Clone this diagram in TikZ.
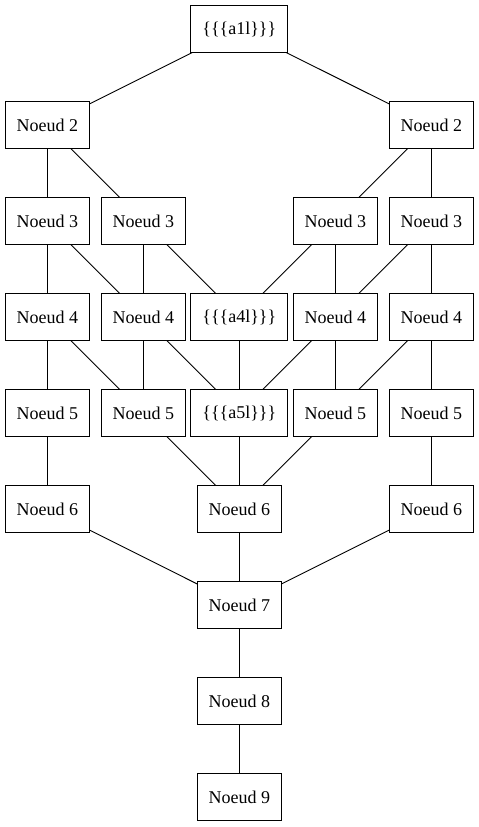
\documentclass[tikz,border=0pt]{standalone}
\usepackage{fontspec}
\setmainfont{Liberation Serif}
\usepackage{tikz}
\usetikzlibrary{positioning}

\begin{document}
\begin{tikzpicture}[x=1pt,y=-1pt,font=\fontsize{18}{20}\selectfont,
  box/.style={rectangle,draw,line width=0.9pt,outer sep=0pt,inner xsep=11.5pt,minimum height=47pt},
  ln/.style={line width=0.9pt}]
  \useasboundingbox (0,0) rectangle (479,827);
  % rangee 1 et 2
  \node[box](a1) at (239.3,29){\{\{\{a1l\}\}\}};
  \node[box](n2a) at (47.3,125){Noeud 2};
  \node[box](n2b) at (431.3,125){Noeud 2};
  % rangee 3
  \node[box,below=49pt of n2a](n3a){Noeud 3};
  \node[box](n3b) at (143.3,221){Noeud 3};
  \node[box](n3c) at (335.3,221){Noeud 3};
  \node[box,below=49pt of n2b](n3d){Noeud 3};
  % rangee 4
  \node[box,below=49pt of n3a](n4a){Noeud 4};
  \node[box,below=49pt of n3b](n4b){Noeud 4};
  \node[box](a4) at (239.3,317){\{\{\{a4l\}\}\}};
  \node[box,below=49pt of n3c](n4c){Noeud 4};
  \node[box,below=49pt of n3d](n4d){Noeud 4};
  % rangee 5
  \node[box,below=49pt of n4a](n5a){Noeud 5};
  \node[box,below=49pt of n4b](n5b){Noeud 5};
  \node[box,below=49pt of a4](a5){\{\{\{a5l\}\}\}};
  \node[box,below=49pt of n4c](n5c){Noeud 5};
  \node[box,below=49pt of n4d](n5d){Noeud 5};
  % rangee 6 a 9
  \node[box,below=49pt of n5a](n6a){Noeud 6};
  \node[box,below=49pt of a5](n6b){Noeud 6};
  \node[box,below=49pt of n5d](n6c){Noeud 6};
  \node[box,below=49pt of n6b](n7){Noeud 7};
  \node[box,below=49pt of n7](n8){Noeud 8};
  \node[box,below=49pt of n8](n9){Noeud 9};
  % aretes
  \draw[ln](a1)--(n2a);\draw[ln](a1)--(n2b);
  \draw[ln](n2a)--(n3a);\draw[ln](n2a)--(n3b);
  \draw[ln](n2b)--(n3c);\draw[ln](n2b)--(n3d);
  \draw[ln](n3a)--(n4a);\draw[ln](n3a)--(n4b);
  \draw[ln](n3b)--(n4b);\draw[ln](n3b)--(a4);
  \draw[ln](n3c)--(a4);\draw[ln](n3c)--(n4c);
  \draw[ln](n3d)--(n4c);\draw[ln](n3d)--(n4d);
  \draw[ln](n4a)--(n5a);\draw[ln](n4a)--(n5b);
  \draw[ln](n4b)--(n5b);\draw[ln](n4b)--(a5);
  \draw[ln](a4)--(a5);
  \draw[ln](n4c)--(a5);\draw[ln](n4c)--(n5c);
  \draw[ln](n4d)--(n5c);\draw[ln](n4d)--(n5d);
  \draw[ln](n5a)--(n6a);\draw[ln](n5b)--(n6b);\draw[ln](a5)--(n6b);
  \draw[ln](n5c)--(n6b);\draw[ln](n5d)--(n6c);
  \draw[ln](n6a)--(n7);\draw[ln](n6b)--(n7);\draw[ln](n6c)--(n7);
  \draw[ln](n7)--(n8);\draw[ln](n8)--(n9);
\end{tikzpicture}
\end{document}
